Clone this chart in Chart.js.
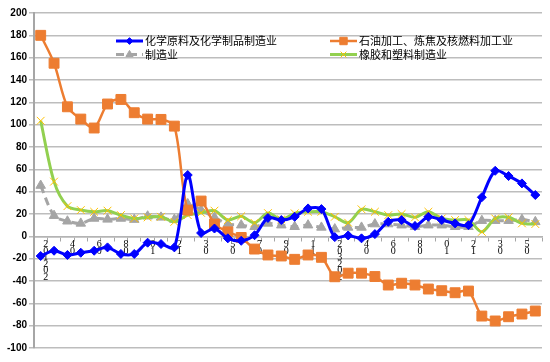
<!DOCTYPE html>
<html>
<head>
<meta charset="utf-8">
<script src="https://cdn.jsdelivr.net/npm/chart.js@4.4.0/dist/chart.umd.min.js"></script>
<style>
  body { margin: 0; background: #fff; }
</style>
</head>
<body>
<canvas id="chart" width="550" height="362"></canvas>
<script>
// months (January is folded into February)
var categories = [
  '2021-02','2021-03','2021-04','2021-05','2021-06','2021-07','2021-08','2021-09','2021-10','2021-11','2021-12',
  '2022-02','2022-03','2022-04','2022-05','2022-06','2022-07','2022-08','2022-09','2022-10','2022-11','2022-12',
  '2023-02','2023-03','2023-04','2023-05','2023-06','2023-07','2023-08','2023-09','2023-10','2023-11','2023-12',
  '2024-02','2024-03','2024-04','2024-05','2024-06'
];

// stacked tick labels as they appear under the axis
var tickLabels = [
  ['2','0','1','2','0','2'], '', ['4','0'], '', ['6','0'], '', ['8','0'], '', ['0','1'], '', ['2','1'],
  '', ['3','0'], '', ['5','0'], '', ['7','0'], '', ['9','0'], '', ['1','1'], '',
  ['2','0','3','2','0','2'], '', ['4','0'], '', ['6','0'], '', ['8','0'], '', ['0','1'], '', ['2','1'],
  '', ['3','0'], '', ['5','0'], ''
];

var seriesNames = ['化学原料及化学制品制造业', '石油加工、炼焦及核燃料加工业', '制造业', '橡胶和塑料制造业'];

var chemical = [-17.6, -12.9, -16.7, -14.7, -12.9, -9.9, -15.8, -15.8, -5.7, -6.9, -9.9,
  54.9, 3, 7, -1.8, -4, 1, 16.5, 14.6, 17.5, 25, 24.4,
  -0.7, 0.8, -1.8, 2, 13, 14.6, 9.2, 17.5, 14.6, 11.6, 10,
  35, 58.7, 54, 47.4, 37];

var petroleum = [180, 155, 116, 105, 97, 118.5, 122.6, 110.7, 105, 104.7, 98.7,
  23.5, 31.6, 11, 4, -1, -11.4, -16.7, -17.6, -20.6, -16.7, -18.8,
  -36.2, -33, -33, -36, -43.6, -42, -43.6, -47.2, -48.7, -50.5, -49,
  -71.4, -75.8, -72, -69.6, -66.9];

var manufacturing = [45.5, 18.5, 13.5, 11.6, 16, 15.2, 16, 15, 18, 17, 15,
  29, 23.5, 17, 11, 10, 8.6, 11.6, 10, 8.6, 10, 8,
  6.5, 8, 8, 11, 11, 10, 8.6, 10, 10, 8.6, 8.6,
  14, 14, 14, 15, 13];

var rubber = [103.5, 49, 27, 23.5, 22, 23, 19, 16, 17, 17.5, 13,
  19, 21, 23, 14.6, 18, 12, 20.8, 15.2, 20.6, 22, 22,
  17.5, 12.2, 24.2, 22, 19, 20, 17, 22, 16, 14.6, 14.6,
  4, 16, 17, 11.6, 11];

// legend drawn inside the plot, two columns
var insideLegend = {
  id: 'insideLegend',
  afterDraw: function(chart) {
    var ctx = chart.ctx;
    var spots = [[116, 41], [330, 41], [116, 54.5], [330, 54.5]];
    chart.data.datasets.forEach(function(ds, i) {
      var x = spots[i][0], y = spots[i][1];
      ctx.save();
      ctx.strokeStyle = ds.borderColor;
      ctx.lineWidth = ds.borderWidth;
      ctx.setLineDash(ds.borderDash || []);
      ctx.beginPath();
      ctx.moveTo(x, y);
      ctx.lineTo(x + 27, y);
      ctx.stroke();
      ctx.setLineDash([]);
      ctx.fillStyle = ds.pointBackgroundColor;
      ctx.strokeStyle = ds.pointBorderColor;
      ctx.lineWidth = ds.pointBorderWidth;
      Chart.helpers.drawPoint(ctx, {
        pointStyle: ds.pointStyle,
        radius: ds.pointRadius * 0.75,
        rotation: 0,
        borderWidth: ds.pointBorderWidth
      }, x + 13.5, y);
      ctx.fillStyle = '#000';
      ctx.font = '11px "Noto Sans CJK SC"';
      ctx.textBaseline = 'middle';
      ctx.fillText(ds.label, x + 29, y);
      ctx.restore();
    });
  }
};

var ctx = document.getElementById('chart').getContext('2d');
var chart = new Chart(ctx, {
  type: 'line',
  data: {
    labels: categories,
    datasets: [{
      label: seriesNames[0],
      data: chemical,
      borderColor: '#0000ff',
      borderWidth: 3,
      pointStyle: 'rectRot',
      pointRadius: 4.5,
      pointBackgroundColor: '#0000ff',
      pointBorderColor: '#0000ff',
      pointBorderWidth: 1,
      tension: 0.3,
      order: 0
    }, {
      label: seriesNames[1],
      data: petroleum,
      borderColor: '#ED7D31',
      borderWidth: 2.5,
      pointStyle: 'rect',
      pointRadius: 7,
      pointBackgroundColor: '#ED7D31',
      pointBorderColor: '#ED7D31',
      pointBorderWidth: 1,
      tension: 0.3,
      order: 1
    }, {
      label: seriesNames[2],
      data: manufacturing,
      borderColor: '#A5A5A5',
      borderWidth: 3,
      borderDash: [8, 5],
      pointStyle: 'triangle',
      pointRadius: 5.5,
      pointBackgroundColor: '#A5A5A5',
      pointBorderColor: '#A5A5A5',
      pointBorderWidth: 1,
      tension: 0.3,
      order: 3
    }, {
      label: seriesNames[3],
      data: rubber,
      borderColor: '#92D050',
      borderWidth: 3,
      pointStyle: 'crossRot',
      pointRadius: 5.5,
      pointBackgroundColor: '#FFC000',
      pointBorderColor: '#FFC000',
      pointBorderWidth: 1,
      tension: 0.3,
      order: 2
    }]
  },
  options: {
    responsive: false,
    animation: false,
    devicePixelRatio: 1,
    layout: { padding: { left: 0, right: 2, top: 13, bottom: 14 } },
    plugins: {
      legend: { display: false },
      tooltip: { enabled: false }
    },
    scales: {
      x: {
        type: 'category',
        position: { y: 0 },
        offset: true,
        grid: { offset: true, drawOnChartArea: false, drawTicks: true, tickLength: 4, color: '#a6a6a6', lineWidth: 1 },
        border: { display: true, color: '#b4b4b4', width: 1.5 },
        ticks: {
          autoSkip: false,
          maxRotation: 0,
          minRotation: 0,
          labelOffset: 5,
          padding: 1,
          color: '#000',
          font: { family: 'Liberation Serif', size: 10, lineHeight: 0.65 },
          callback: function(v, i) { return tickLabels[i]; }
        }
      },
      y: {
        min: -100,
        max: 200,
        afterFit: function(s) { s.width = 34; },
        grid: { color: '#bdbdbd', lineWidth: 1.5, tickLength: 5 },
        border: { display: true, color: '#a6a6a6', width: 2 },
        ticks: {
          stepSize: 20,
          padding: 2,
          color: '#000',
          font: { family: 'Liberation Sans', size: 10, weight: 'bold' }
        }
      }
    }
  },
  plugins: [insideLegend]
});
</script>
</body>
</html>
